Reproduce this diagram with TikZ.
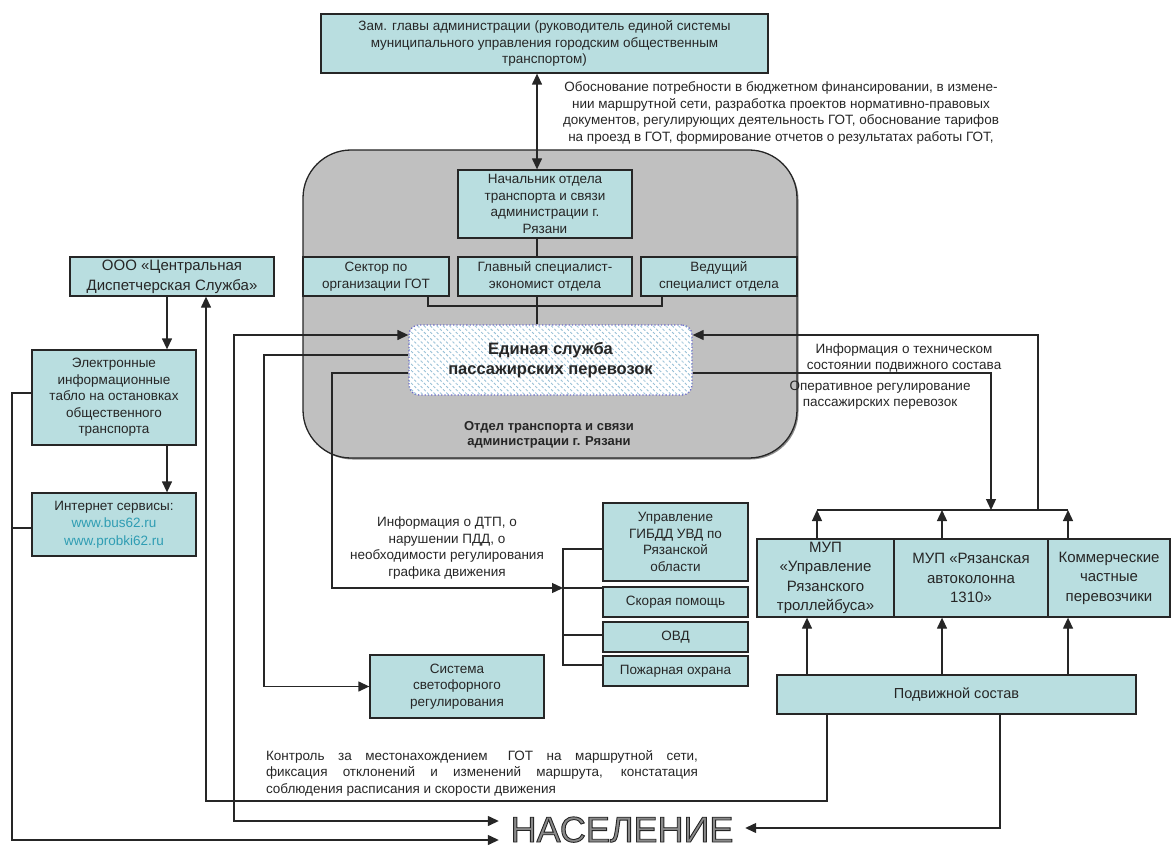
\documentclass[tikz,border=0pt]{standalone}
\usepackage{fontspec}
\setmainfont{Liberation Sans}
\usetikzlibrary{arrows.meta,patterns.meta,shadows}
\definecolor{boxfill}{HTML}{B9DEE0}
\definecolor{deptgray}{HTML}{C0C0C0}
\definecolor{ink}{HTML}{262626}
\definecolor{linkcol}{HTML}{2F9DB3}
\definecolor{hatchcol}{HTML}{96BFD6}
\definecolor{dotblue}{HTML}{6C6CC8}
\definecolor{nasgray}{HTML}{8A8A8A}
% text drawn with fill and a thin dark outline
\newcommand\hollowtext[1]{\special{pdf:code q 2 Tr 0.9 w 0.15 0.15 0.15 RG}#1\special{pdf:code Q}}

\begin{document}
\begin{tikzpicture}[x=1pt,y=-1pt,
  fsmall/.style={font=\fontsize{13.5}{16.5}\selectfont},
  fbig/.style={font=\fontsize{15}{19.5}\selectfont},
  box/.style={draw=ink, line width=1.3pt, fill=boxfill, align=center, inner sep=0pt,
    text=ink, fsmall,
    drop shadow={shadow xshift=1.3pt, shadow yshift=-1.3pt, fill=black, opacity=0.45}},
  note/.style={fsmall, align=center, text=ink, inner sep=0pt},
  conn/.style={draw=ink, line width=1.3pt},
  arr/.style={conn, -{Triangle[length=11pt,width=10pt]}},
  dbl/.style={conn, {Triangle[length=11pt,width=10pt]}-{Triangle[length=11pt,width=10pt]}},
]
\useasboundingbox (0,0) rectangle (1172,850);

% ---- administration and department ----
\node[box, minimum width=447, minimum height=59] (zam) at (544.5,43.5)
  {Зам. главы администрации (руководитель единой системы\\муниципального управления городским общественным\\транспортом)};

\node[draw=ink, line width=1.3pt, fill=deptgray, rounded corners=48pt,
  minimum width=494, minimum height=308,
  drop shadow={shadow xshift=1.5pt, shadow yshift=-1.5pt, fill=black, opacity=0.45}] (dept) at (550,304) {};

\node[box, minimum width=174, minimum height=68] (nach) at (545,204)
  {Начальник отдела\\транспорта и связи\\администрации г.\\Рязани};
\node[box, minimum width=146, minimum height=39] (sektor) at (376,276.5)
  {Сектор по\\организации ГОТ};
\node[box, minimum width=174, minimum height=39] (glav) at (545,276.5)
  {Главный специалист-\\экономист отдела};
\node[box, minimum width=156, minimum height=39] (ved) at (719,276.5)
  {Ведущий\\специалист отдела};

\node[draw=dotblue, dotted, line width=1.3pt, rounded corners=10pt, fill=white,
  postaction={pattern={Lines[angle=-45,distance=4.5pt,line width=0.9pt]}, pattern color=hatchcol},
  minimum width=283, minimum height=70, align=center, text=ink,
  font=\bfseries\fontsize{16.5}{20}\selectfont] (edin) at (550.5,360)
  {Единая служба\\пассажирских перевозок};

\node[note, font=\bfseries\fontsize{13}{15}\selectfont] (deptlbl) at (549,435)
  {Отдел транспорта и связи\\администрации г. Рязани};

% ---- left column ----
\node[box, minimum width=204, minimum height=39, font=\fontsize{15}{20}\selectfont] (cds) at (172,276.5)
  {ООО «Центральная\\Диспетчерская Служба»};
\node[box, minimum width=164, minimum height=95] (tablo) at (114,397.5)
  {Электронные\\информационные\\табло на остановках\\общественного\\транспорта};
\node[box, minimum width=164, minimum height=63, font=\fontsize{13.5}{17.5}\selectfont] (inet) at (114,524.5)
  {Интернет сервисы:\\\textcolor{linkcol}{www.bus62.ru}\\\textcolor{linkcol}{www.probki62.ru}};

% ---- services ----
\node[box, minimum width=145, minimum height=78] (gibdd) at (675.5,542)
  {Управление\\ГИБДД УВД по\\Рязанской\\области};
\node[box, minimum width=145, minimum height=30] (skor) at (675.5,602) {Скорая помощь};
\node[box, minimum width=145, minimum height=30] (ovd) at (675.5,637) {ОВД};
\node[box, minimum width=145, minimum height=30] (pozh) at (675.5,671) {Пожарная охрана};
\node[box, minimum width=174, minimum height=63] (svet) at (457,686.5)
  {Система\\светофорного\\регулирования};

% ---- carriers ----
\node[box, fbig, minimum width=137, minimum height=78] (mup1) at (825.5,578)
  {МУП\\«Управление\\Рязанского\\троллейбуса»};
\node[box, fbig, minimum width=154, minimum height=78] (mup2) at (971,578)
  {МУП «Рязанская\\автоколонна\\1310»};
\node[box, fbig, minimum width=122, minimum height=78] (kom) at (1109,578)
  {Коммерческие\\частные\\перевозчики};
\node[box, minimum width=359, minimum height=39, font=\fontsize{14.5}{18}\selectfont] (podv) at (956.5,694.5)
  {Подвижной состав};

% ---- population ----
\node[inner sep=0pt, anchor=base, text=nasgray, font=\fontsize{36}{36}\selectfont,
  minimum width=246] (nas) at (622,842)
  {\hollowtext{НАСЕЛЕНИЕ}};

% ---- annotations ----
\node[note] (tNeed) at (781,113)
  {Обоснование потребности в бюджетном финансировании, в измене-\\нии маршрутной сети, разработка проектов нормативно-правовых\\документов, регулирующих деятельность ГОТ, обоснование тарифов\\на проезд в ГОТ, формирование отчетов о результатах работы ГОТ,};
\node[note] (tTech) at (904,358)
  {Информация о техническом\\состоянии подвижного состава};
\node[note] (tOper) at (880,395)
  {Оперативное регулирование\\пассажирских перевозок};
\node[note] (tDtp) at (447,548)
  {Информация о ДТП, о\\нарушении ПДД, о\\необходимости регулирования\\графика движения};
\node[note, text width=432pt, align=justify] (tCtrl) at (482,773)
  {Контроль\ \ за\ \ местонахождением\ \ \ ГОТ\ \ на\ \ маршрутной\ \ сети,\linebreak
   фиксация отклонений и изменений маршрута, констатация\linebreak
   соблюдения расписания и скорости движения};

% ---- routing columns and levels ----
\coordinate (spine) at (537,0);
\coordinate (brL) at (428,0);
\coordinate (brR) at (662,0);
\coordinate (lvBr) at (0,306);
\coordinate (cL) at (12,0);
\coordinate (cCds) at (206,0);
\coordinate (cPop) at (234,0);
\coordinate (cSvet) at (264,0);
\coordinate (cDtp) at (332,0);
\coordinate (bus) at (563,0);
\coordinate (cTab) at (167,0);
\coordinate (pv1) at (827,0);
\coordinate (pv2) at (1000,0);
\coordinate (up1) at (807,0);
\coordinate (up2) at (942,0);
\coordinate (up3) at (1068,0);
\coordinate (top1) at (817,0);
\coordinate (cIn) at (1038,0);
\coordinate (cOut) at (991,0);
\coordinate (lvA) at (0,335);
\coordinate (lvB) at (0,355);
\coordinate (lvC) at (0,373);
\coordinate (lvTab) at (0,393);
\coordinate (lvNet) at (0,528);
\coordinate (lvG) at (0,549);
\coordinate (lvS) at (0,588);
\coordinate (lvO) at (0,635);
\coordinate (lvP) at (0,665);
\coordinate (lvCtl) at (0,801);
\coordinate (lvN1) at (0,821);
\coordinate (lvN2) at (0,828);
\coordinate (lvN3) at (0,840);
\coordinate (bar) at (0,510);

% ---- department internals ----
\draw[dbl] (zam.south -| spine) -- (nach.north -| spine);
\draw[conn] (nach.south -| spine) -- (glav.north -| spine);
\draw[conn] (glav.south -| spine) -- (edin.north -| spine);
\draw[conn] (sektor.south -| brL) -- (brL |- lvBr) -- (brR |- lvBr) -- (ved.south -| brR);

% ---- left side links ----
\draw[dbl] (edin.west |- lvA) -- (cPop |- lvA) -- (cPop |- lvN1) -- (nas.west |- lvN1);
\draw[arr] (edin.west |- lvB) -- (cSvet |- lvB) -- (cSvet |- svet.west) -- (svet.west);
\draw[arr] (edin.west |- lvC) -- (cDtp |- lvC) -- (cDtp |- lvS) -- (bus |- lvS);
\draw[conn] (gibdd.west |- lvG) -- (bus |- lvG) -- (bus |- lvP) -- (pozh.west |- lvP);
\draw[conn] (bus |- lvS) -- (skor.west |- lvS);
\draw[conn] (bus |- lvO) -- (ovd.west |- lvO);

\draw[arr] (cds.south -| cTab) -- (tablo.north -| cTab);
\draw[arr] (tablo.south -| cTab) -- (inet.north -| cTab);
\draw[arr] (tablo.west |- lvTab) -- (cL |- lvTab) -- (cL |- lvN3) -- (nas.west |- lvN3);
\draw[conn] (inet.west |- lvNet) -- (cL |- lvNet);

\draw[arr] (podv.south -| pv1) -- (pv1 |- lvCtl) -- (cCds |- lvCtl) -- (cds.south -| cCds);
\draw[arr] (podv.south -| pv2) -- (pv2 |- lvN2) -- (nas.east |- lvN2);

% ---- carriers ----
\draw[arr] (podv.north -| up1) -- (mup1.south -| up1);
\draw[arr] (podv.north -| up2) -- (mup2.south -| up2);
\draw[arr] (podv.north -| up3) -- (kom.south -| up3);
\draw[conn] (top1 |- bar) -- (up3 |- bar);
\draw[arr] (mup1.north -| top1) -- (top1 |- bar);
\draw[arr] (mup2.north -| up2) -- (up2 |- bar);
\draw[arr] (kom.north -| up3) -- (up3 |- bar);
\draw[arr] (cIn |- bar) -- (cIn |- lvA) -- (edin.east |- lvA);
\draw[arr] (edin.east |- lvC) -- (cOut |- lvC) -- (cOut |- bar);
\end{tikzpicture}
\end{document}
